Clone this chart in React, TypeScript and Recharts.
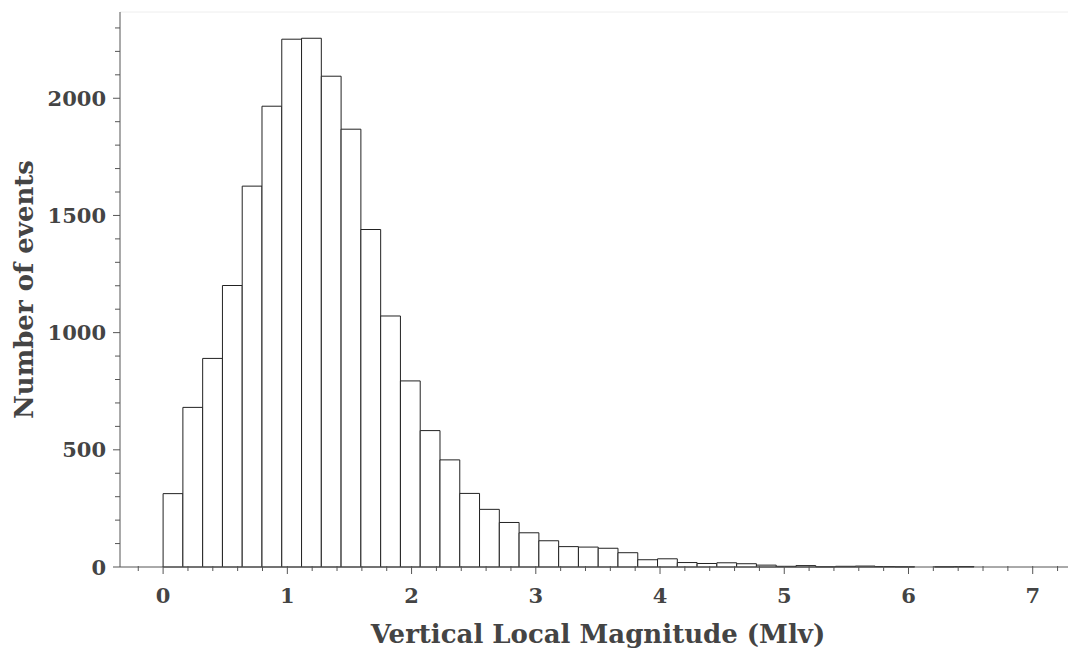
import { ComposedChart, XAxis, YAxis, ReferenceArea, ReferenceLine } from "recharts"

// histogram of vertical local magnitude, bin width
const BIN_WIDTH = 0.1592
const COUNTS = [
  313, 681, 890, 1201, 1625, 1966, 2252, 2256, 2094, 1868, 1440, 1071, 794, 582, 457, 314,
  246, 190, 146, 112, 87, 85, 80, 61, 31, 35, 19, 15, 18, 14, 8, 3, 6, 1, 3, 4, 2, 1, 0, 1,
  2,
]

const X_DOMAIN: [number, number] = [-0.347, 7.284]
const Y_DOMAIN: [number, number] = [0, 2368]
const X_MAJOR = [0, 1, 2, 3, 4, 5, 6, 7]
const X_MINOR = [
  -0.2, 0.2, 0.4, 0.6, 0.8, 1.2, 1.4, 1.6, 1.8, 2.2, 2.4, 2.6, 2.8, 3.2, 3.4, 3.6, 3.8, 4.2,
  4.4, 4.6, 4.8, 5.2, 5.4, 5.6, 5.8, 6.2, 6.4, 6.6, 6.8, 7.2,
]
const Y_MAJOR = [0, 500, 1000, 1500, 2000]
const Y_MINOR = [
  100, 200, 300, 400, 600, 700, 800, 900, 1100, 1200, 1300, 1400, 1600, 1700, 1800, 1900,
  2100, 2200, 2300,
]

const bins = COUNTS.map((count, i) => ({
  start: i * BIN_WIDTH,
  end: (i + 1) * BIN_WIDTH,
  count,
}))

const X_TICKS = [...X_MAJOR, ...X_MINOR].sort((a, b) => a - b)
const Y_TICKS = [...Y_MAJOR, ...Y_MINOR].sort((a, b) => a - b)

const FONT = "'DejaVu Serif', serif"
const TEXT = "#444"
const AXIS = "#555"

const XTick = (props: any) => {
  const { x, y, payload } = props
  const major = X_MAJOR.includes(payload.value)
  return (
    <g>
      <line x1={x} x2={x} y1={y - 1} y2={y + (major ? 7 : 4)} stroke={AXIS} />
      {major && (
        <text
          x={x}
          y={y + 21}
          dy="0.71em"
          textAnchor="middle"
          fill={TEXT}
          fontSize={21}
          fontWeight="bold"
          fontFamily={FONT}
        >
          {payload.value}
        </text>
      )}
    </g>
  )
}

const YTick = (props: any) => {
  const { x, y, payload } = props
  const major = Y_MAJOR.includes(payload.value)
  return (
    <g>
      <line x1={x - (major ? 7 : 5)} x2={x} y1={y} y2={y} stroke={AXIS} />
      {major && (
        <text
          x={x - 14}
          y={y}
          textAnchor="end"
          dominantBaseline="central"
          fill={TEXT}
          fontSize={21}
          fontWeight="bold"
          fontFamily={FONT}
        >
          {payload.value}
        </text>
      )}
    </g>
  )
}

const renderYLabel = (props: any) => {
  const { x, y, height } = props.viewBox
  const cx = x + 24
  const cy = y + height / 2
  return (
    <text
      x={cx}
      y={cy}
      transform={`rotate(-90, ${cx}, ${cy})`}
      textAnchor="middle"
      dominantBaseline="central"
      fill={TEXT}
      fontSize={26}
      fontWeight="bold"
      fontFamily={FONT}
    >
      Number of events
    </text>
  )
}

const renderXLabel = (props: any) => {
  const { x, y, width } = props.viewBox
  return (
    <text
      x={x + width / 2 + 4}
      y={y + 76}
      textAnchor="middle"
      fill={TEXT}
      fontSize={26}
      fontWeight="bold"
      fontFamily={FONT}
    >
      Vertical Local Magnitude (Mlv)
    </text>
  )
}

export default function App() {
  return (
    <div style={{ position: "absolute", left: 0, top: 0, background: "#fff" }}>
      <ComposedChart
        width={1071}
        height={650}
        data={bins}
        margin={{ top: 12, right: 3, bottom: 0, left: 0 }}
      >
        <XAxis
          type="number"
          dataKey="start"
          domain={X_DOMAIN}
          ticks={X_TICKS}
          interval={0}
          allowDataOverflow
          height={83}
          tickSize={0}
          tickMargin={0}
          tickLine={false}
          stroke={AXIS}
          tick={<XTick />}
          label={renderXLabel}
        />
        <YAxis
          type="number"
          domain={Y_DOMAIN}
          ticks={Y_TICKS}
          interval={0}
          allowDataOverflow
          width={120}
          tickSize={0}
          tickMargin={0}
          tickLine={false}
          stroke={AXIS}
          tick={<YTick />}
          label={renderYLabel}
        />
        <ReferenceLine y={Y_DOMAIN[1]} stroke="#eee" />
        {bins.map((b) => (
          <ReferenceArea
            key={b.start}
            x1={b.start}
            x2={b.end}
            y1={0}
            y2={b.count}
            fill="#fff"
            fillOpacity={1}
            stroke="#222"
            strokeWidth={1}
            ifOverflow="visible"
          />
        ))}
      </ComposedChart>
    </div>
  )
}
